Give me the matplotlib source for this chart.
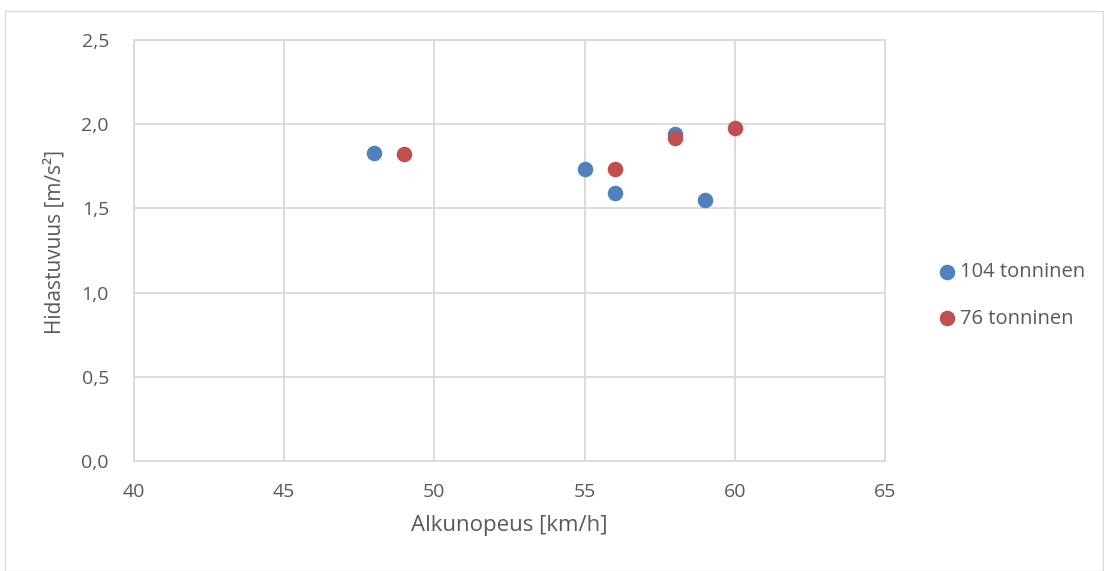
import matplotlib
matplotlib.use("Agg")
import matplotlib.pyplot as plt
from matplotlib.patches import Rectangle

x_104 = [48, 55, 56, 58, 59]
y_104 = [1.827, 1.734, 1.593, 1.940, 1.550]
x_76 = [49, 56, 58, 60]
y_76 = [1.823, 1.732, 1.916, 1.975]
series_names = ["104 tonninen", "76 tonninen"]
x_ticks = [40, 45, 50, 55, 60, 65]
y_ticks = [0.0, 0.5, 1.0, 1.5, 2.0, 2.5]

plt.rcParams['font.family'] = ['Open Sans', 'DejaVu Sans']
txt = '#595959'
grid = '#D9D9D9'

fig = plt.figure(figsize=(11.04, 5.71), dpi=100)
fig.patches.append(Rectangle((5/1104, 0), 1 - 6/1104, 1 - 11/571, transform=fig.transFigure,
                             fill=False, edgecolor=grid, linewidth=1))
ax = fig.add_axes([134/1104, 1 - 461/571, (885-134)/1104, (461-40)/571])

ax.scatter(x_104, y_104, s=125, color='#4F81BD', label=series_names[0], zorder=3, linewidths=0)
ax.scatter(x_76, y_76, s=125, color='#C0504D', label=series_names[1], zorder=3, linewidths=0)

ax.set_xlim(40, 65)
ax.set_ylim(0, 2.5)
ax.set_xticks(x_ticks)
ax.set_yticks(y_ticks)
ax.set_xticklabels([str(v) for v in x_ticks])
ax.set_yticklabels([f"{v:.1f}".replace('.', ',') for v in y_ticks])
ax.grid(True, color=grid, linewidth=1.3)
ax.set_axisbelow(True)
for s in ax.spines.values():
    s.set_color(grid)
    s.set_linewidth(1.3)
ax.tick_params(length=0, labelsize=14, labelcolor=txt)
ax.tick_params(axis='x', pad=16)
ax.tick_params(axis='y', pad=18)
ax.set_xlabel("Alkunopeus [km/h]", fontsize=16, color=txt, labelpad=10)
ax.set_ylabel("Hidastuvuus [m/s²]", fontsize=15, color=txt)
ax.yaxis.set_label_coords((66 - 134) / (885 - 134), (461 - 242) / 421)

leg = ax.legend(loc='center left', bbox_to_anchor=(1.045, 0.393), frameon=False,
                fontsize=14.5, handletextpad=0.15, labelspacing=1.3, markerscale=1.0,
                handlelength=1.0)
for t in leg.get_texts():
    t.set_color(txt)

fig.savefig("out.png", dpi=100)
